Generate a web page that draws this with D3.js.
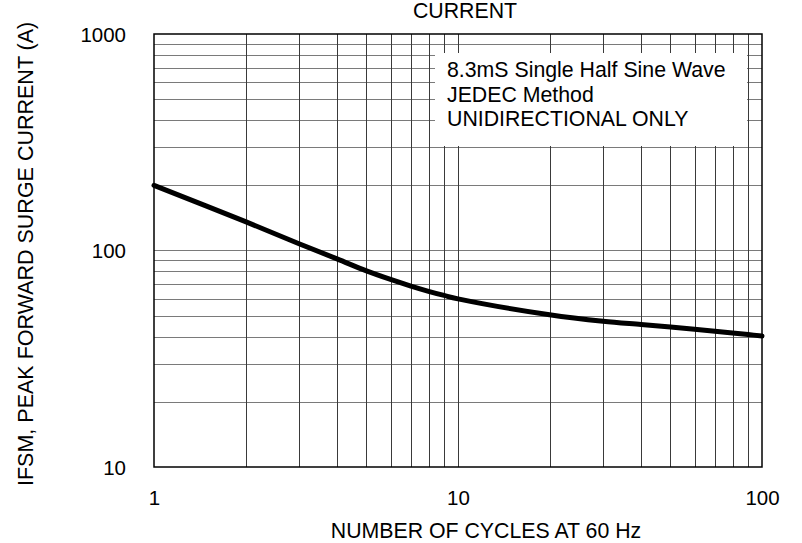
<!DOCTYPE html>
<html><head><meta charset="utf-8">
<script src="https://cdn.jsdelivr.net/npm/d3@7"></script>
<style>
html,body{margin:0;padding:0;background:#fff;}
text{font-family:"Liberation Sans",Arial,sans-serif;fill:#000;}
</style></head>
<body>
<svg id="chart" width="802" height="543"></svg>
<script>
// Data
const cycles = [1, 2, 3, 4, 5, 6, 7, 8, 9, 10, 20, 30, 40, 50, 60, 70, 80, 90, 100];
const surgeCurrent = [200, 136, 107.5, 91.5, 80.5, 73.5, 68.5, 64.8, 62, 59.8, 50.5, 47.1, 45.5, 44.3, 43.3, 42.4, 41.6, 40.9, 40.3];
const xTickLabels = [1, 10, 100];
const yTickLabels = [10, 100, 1000];
const noteLines = ["8.3mS Single Half Sine Wave", "JEDEC Method", "UNIDIRECTIONAL ONLY"];
const titleText = "CURRENT";
const xTitle = "NUMBER OF CYCLES AT 60 Hz";
const yTitle = "IFSM, PEAK FORWARD SURGE CURRENT (A)";

const svg = d3.select("#chart");
const L = 154, R = 762, T = 34, B = 467;
const x = d3.scaleLog().domain([1, 100]).range([L, R]);
const y = d3.scaleLog().domain([10, 1000]).range([B, T]);

// minor grid values
const xGrid = [];
for (let d = 1; d < 100; d *= 10) for (let k = 2; k <= 9; k++) xGrid.push(d * k);
const yGrid = [];
for (let d = 10; d < 1000; d *= 10) for (let k = 1; k <= 9; k++) if (!(k === 1 && d === 10)) yGrid.push(d * k);

const g = svg.append("g");
g.selectAll("line.hg").data(yGrid).enter().append("line")
  .attr("x1", L).attr("x2", R)
  .attr("y1", d => Math.round(y(d)) + 0.5).attr("y2", d => Math.round(y(d)) + 0.5)
  .attr("stroke", "#7a7a7a").attr("stroke-width", 1.2);
g.selectAll("line.vg").data(xGrid.concat([10])).enter().append("line")
  .attr("x1", d => Math.round(x(d)) + 0.5).attr("x2", d => Math.round(x(d)) + 0.5)
  .attr("y1", T).attr("y2", B)
  .attr("stroke", "#3a3a3a").attr("stroke-width", 1);

// note box (masks grid)
svg.append("rect").attr("x", 435).attr("y", 53).attr("width", 312).attr("height", 93).attr("fill", "#fff");
svg.append("g").selectAll("text").data(noteLines).enter().append("text")
  .attr("x", 447).attr("y", (d, i) => 77 + i * 24.5)
  .attr("font-size", 21.3).text(d => d);

// frame
svg.append("rect").attr("x", L).attr("y", T).attr("width", R - L).attr("height", B - T)
  .attr("fill", "none").attr("stroke", "#000").attr("stroke-width", 1.5);

// curve
const line = d3.line().x((d, i) => x(cycles[i])).y(d => y(d)).curve(d3.curveCatmullRom.alpha(0.5));
svg.append("path").datum(surgeCurrent).attr("d", line)
  .attr("fill", "none").attr("stroke", "#000").attr("stroke-width", 5).attr("stroke-linecap", "round").attr("stroke-linejoin", "round");

// axes labels via d3 axes
const xAxis = d3.axisBottom(x).tickValues(xTickLabels).tickFormat(d3.format("d")).tickSize(0).tickPadding(0);
const xa = svg.append("g").attr("transform", `translate(0,${B})`).call(xAxis);
xa.select(".domain").remove();
xa.selectAll("text").attr("font-size", 20.5).attr("dy", null).attr("y", 38).style("font-family", "Liberation Sans, Arial, sans-serif").attr("fill", "#000");

const yAxis = d3.axisLeft(y).tickValues(yTickLabels).tickFormat(d3.format("d")).tickSize(0).tickPadding(0);
const ya = svg.append("g").attr("transform", `translate(126,0)`).call(yAxis);
ya.select(".domain").remove();
ya.selectAll("text").attr("font-size", 20.5).attr("x", 0).attr("dy", "0.35em").style("font-family", "Liberation Sans, Arial, sans-serif").attr("fill", "#000");

svg.append("text").attr("x", 465).attr("y", 18).attr("text-anchor", "middle").attr("font-size", 21.3).text(titleText);
svg.append("text").attr("x", 486).attr("y", 538).attr("text-anchor", "middle").attr("font-size", 21.3).text(xTitle);
svg.append("text").attr("transform", "translate(33,486) rotate(-90)").attr("text-anchor", "start").attr("font-size", 21.5).text(yTitle);
</script>
</body></html>
